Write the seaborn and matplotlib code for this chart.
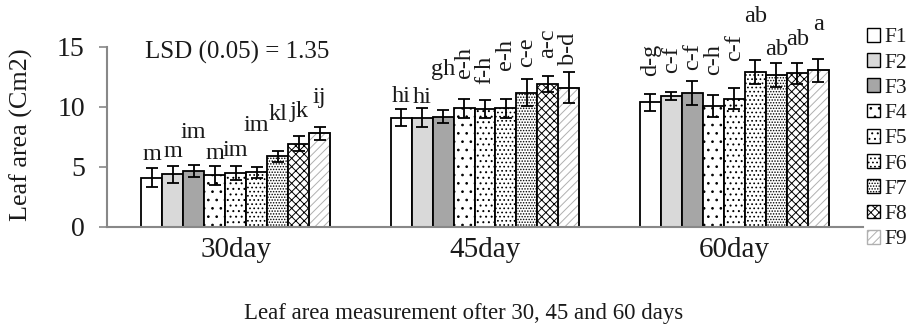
import numpy as np
import pandas as pd
import matplotlib
matplotlib.use("Agg")
import matplotlib.pyplot as plt
import seaborn as sns
from matplotlib.patches import Patch, Rectangle

days = ["30day", "45day", "60day"]
treatments = ["F1", "F2", "F3", "F4", "F5", "F6", "F7", "F8", "F9"]

leaf_30 = [4.1, 4.4, 4.7, 4.3, 4.5, 4.55, 5.9, 6.95, 7.8]
leaf_45 = [9.1, 9.1, 9.2, 9.9, 9.8, 9.9, 11.2, 11.9, 11.6]
leaf_60 = [10.4, 10.9, 11.2, 10.1, 10.7, 12.9, 12.7, 12.8, 13.05]

err_30 = [0.8, 0.7, 0.5, 0.8, 0.55, 0.45, 0.45, 0.65, 0.55]
err_45 = [0.7, 0.8, 0.55, 0.8, 0.75, 0.8, 1.1, 0.65, 1.3]
err_60 = [0.7, 0.35, 1.0, 0.9, 0.9, 1.0, 1.0, 0.85, 0.95]

letters_30 = ["m", "m", "im", "m", "im", "im", "kl", "jk", "ij"]
letters_45 = ["hi", "hi", "gh", "e-h", "f-h", "e-h", "c-e", "a-c", "b-d"]
letters_60 = ["d-g", "c-f", "c-f", "c-h", "c-f", "ab", "ab", "ab", "a"]

# styling: offsets of letter labels above the error bars (pixels)
pad_30 = [8, 9, 27, 7, 10, 36, 31, 19, 24]
pad_45 = [7, 5, 35, 21, 16, 29, 12, 18, 7]
pad_60 = [18, 19, 11, 20, 27, 38, 8, 18, 29]

fills = ["white", "#d9d9d9", "#a6a6a6", "white", "white", "white", "white", "white", "white"]
hatches = ["", "", "", "..", "...", "....", "......", "xxxx", "////"]

leaf = [leaf_30, leaf_45, leaf_60]
errs = [err_30, err_45, err_60]
letters = [letters_30, letters_45, letters_60]
pads = [pad_30, pad_45, pad_60]

rows = []
for d, vals in zip(days, leaf):
    for t, v in zip(treatments, vals):
        rows.append({"day": d, "treatment": t, "value": v})
df = pd.DataFrame(rows)

sns.set_style("white")
plt.rcParams["font.family"] = ["Liberation Serif", "DejaVu Serif"]
plt.rcParams["hatch.linewidth"] = 0.7

fig = plt.figure(figsize=(9.17, 3.32), dpi=100)
ax = fig.add_axes([107 / 917, 1 - 227 / 332, (863 - 107) / 917, (227 - 47) / 332])

sns.barplot(data=df, x="day", y="value", hue="treatment", order=days,
            hue_order=treatments, palette=fills, width=0.758, gap=0,
            edgecolor="black", linewidth=1.3, legend=False, ax=ax,
            errorbar=None, saturation=1)

txt_color = "#1a1a1a"
bar_conts = list(ax.containers)
for i, cont in enumerate(bar_conts):
    for j, bar in enumerate(cont):
        bar.set_hatch(hatches[i])
        if i == 8:
            bar.set_edgecolor("#b0b0b0")
            ax.add_patch(Rectangle((bar.get_x(), bar.get_y()), bar.get_width(),
                                   bar.get_height(), fill=False, edgecolor="black",
                                   linewidth=1.3, zorder=bar.get_zorder() + 0.1))
        x = bar.get_x() + bar.get_width() / 2
        y = bar.get_height()
        e = errs[j][i]
        ax.errorbar(x, y, yerr=e, fmt="none", ecolor="black", elinewidth=1.3,
                    capsize=4.3, capthick=1.3, zorder=5)
        lab = letters[j][i]
        pad_pt = pads[j][i] * 0.72
        if "-" in lab:
            ax.annotate(lab, xy=(x, y + e), xytext=(0, pad_pt), textcoords="offset points",
                        ha="center", va="bottom", rotation=90, fontsize=17.5,
                        color=txt_color, annotation_clip=False)
        else:
            ax.annotate(lab, xy=(x, y + e), xytext=(0, pad_pt), textcoords="offset points",
                        ha="center", va="baseline", fontsize=17.5,
                        color=txt_color, annotation_clip=False)

ax.set_ylim(0, 15)
ax.set_yticks([0, 5, 10, 15])
ax.tick_params(axis="y", labelsize=20, length=6, width=1.2, color="#888888",
               direction="out", left=True, pad=10, labelcolor=txt_color)
ax.tick_params(axis="x", labelsize=21, length=0, pad=7, labelcolor=txt_color)
for s in ["top", "right"]:
    ax.spines[s].set_visible(False)
for s in ["left", "bottom"]:
    ax.spines[s].set_color("#888888")
    ax.spines[s].set_linewidth(1.5)
ax.set_ylabel("Leaf area (Cm2)", fontsize=18.8, color=txt_color)
ax.yaxis.set_label_coords(-0.098, 0.515)
ax.set_xlabel("Leaf area measurement ofter 30, 45 and 60 days", fontsize=16.4, color=txt_color)
ax.xaxis.set_label_coords(0.472, -0.42)

ax.text(0.05, 0.97, "LSD (0.05) = 1.35", transform=ax.transAxes, fontsize=18,
        ha="left", va="center", color=txt_color)

handles = []
for i, t in enumerate(treatments):
    ec = "#b0b0b0" if i == 8 else "black"
    handles.append(Patch(facecolor=fills[i], edgecolor=ec, hatch=hatches[i],
                         linewidth=1.0, label=t))
fig.legend(handles=handles, loc="upper left", bbox_to_anchor=(867 / 917, 1 - 28 / 332),
           frameon=False, fontsize=15.5, handlelength=0.6, handleheight=0.6,
           handletextpad=0.2, labelspacing=0.27, borderaxespad=0, borderpad=0,
           labelcolor=txt_color)

fig.savefig("out.png", dpi=100)
